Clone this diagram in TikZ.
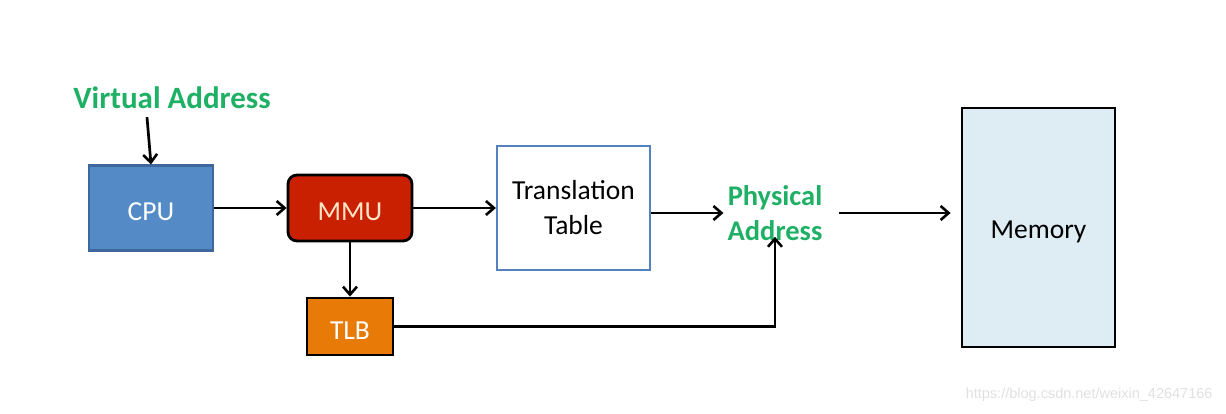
\documentclass[tikz,border=0pt]{standalone}
\usepackage{fontspec}
\setmainfont{Carlito}
\newfontfamily\markfont{Liberation Sans}
\usepackage{xcolor}
\usetikzlibrary{positioning,arrows.meta}

\definecolor{addrgreen}{RGB}{30,176,100}
\definecolor{cpublue}{RGB}{84,138,198}
\definecolor{cpuedge}{RGB}{62,104,156}
\definecolor{mmured}{RGB}{200,32,0}
\definecolor{tlborange}{RGB}{232,122,8}
\definecolor{tableedge}{RGB}{84,130,190}
\definecolor{memfill}{RGB}{222,236,243}

\begin{document}
\begin{tikzpicture}[x=1pt,y=-1pt,
        every node/.style={font=\fontsize{27.5}{35}\selectfont},
        unit/.style={draw,line width=2.2pt,inner sep=0pt,align=center},
        low/.style={text height=26pt,text depth=0pt},
        addr/.style={font=\fontsize{28.5}{35}\selectfont\bfseries,
                     text=addrgreen,align=center,inner sep=2pt},
        arr/.style={-{Straight Barb[length=8pt,width=14pt,line width=2.6pt]},
                    line width=2.7pt,black}]
        \useasboundingbox (0,0) rectangle (1226,414);
        % boxes
        \node[unit,low,draw=cpuedge,fill=cpublue,text=white,
              minimum width=124pt,minimum height=85pt] (cpu) at (151,208) {CPU};
        \node[unit,low,fill=mmured,rounded corners=9pt,text={rgb,255:red,255;green,228;blue,200},
              minimum width=124pt,minimum height=66pt,line width=2.8pt] (mmu) at (350,208) {MMU};
        \node[unit,draw=tableedge,fill=white,
              minimum width=153pt,minimum height=124pt] (table) at (573.5,208) {Translation\\Table};
        \node[unit,low,fill=tlborange,text=white,line width=2.8pt,
              minimum width=86pt,minimum height=57pt] (tlb) at (350,326.5) {TLB};
        \node[unit,fill=memfill,line width=2.8pt,text height=22pt,text depth=0pt,
              minimum width=153pt,minimum height=239pt] (mem) at (1038.5,227.5) {Memory};
        % addresses
        \node[addr,font=\fontsize{31}{36}\selectfont\bfseries] (va) at (172,98) {Virtual Address};
        \node[addr] (pa) at (775,213) {Physical\\Address};
        % arrows
        \draw[arr] ([xshift=-25pt,yshift=-6pt]va.south) -- (cpu.north);
        \draw[arr] (cpu) -- (mmu);
        \draw[arr] (mmu) -- (table);
        \draw[arr] (mmu) -- (tlb);
        \draw[arr] (table.east |- pa.west) -- ([xshift=-2pt]pa.west);
        \draw[arr] ([xshift=14pt]pa.east) -- ([xshift=-10pt]mem.west |- pa.east);
        \draw[arr] (tlb.east) -| ([yshift=6pt]pa.south);
        % watermark
        \node[anchor=east,font=\markfont\fontsize{14.5}{16}\selectfont,text=black!12] (mark) at (1216,395)
              {https://blog.csdn.net/weixin\_42647166};
      \end{tikzpicture}
\end{document}
